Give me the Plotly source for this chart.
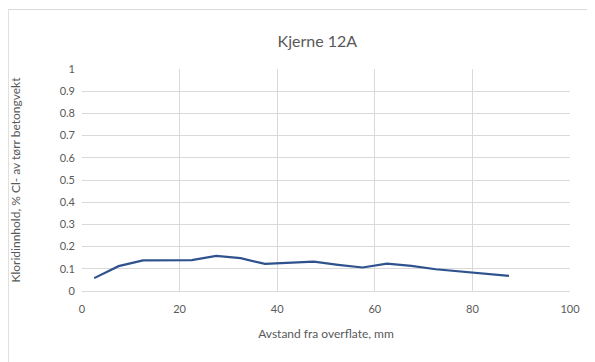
import plotly.graph_objects as go

# avstand fra overflate (mm) og kloridinnhold (% Cl- av tørr betongvekt)
depth_mm = [2.5, 7.5, 12.5, 17.5, 22.5, 27.5, 32.5, 37.5, 42.5, 47.5,
            52.5, 57.5, 62.5, 67.5, 72.5, 77.5, 82.5, 87.5]
chloride = [0.058, 0.112, 0.138, 0.138, 0.139, 0.158, 0.148, 0.122, 0.128, 0.132,
            0.118, 0.106, 0.123, 0.113, 0.098, 0.088, 0.079, 0.068]

title_text = "Kjerne 12A"
x_title = "Avstand fra overflate, mm"
y_title = "Kloridinnhold, % Cl- av tørr betongvekt"

grey_text = "#595959"
grid = "#D9D9D9"

fig = go.Figure()

fig.add_trace(go.Scatter(
    x=depth_mm,
    y=chloride,
    mode="lines",
    line=dict(color="#2F528F", width=2.2),
    showlegend=False
))

# siden har 8px marg, så figuren er litt mindre enn vinduet
fig.update_layout(
    width=587,
    height=354,
    margin=dict(l=74, r=25, t=61, b=71),
    paper_bgcolor="white",
    plot_bgcolor="white",
    font=dict(family="Lato, Liberation Sans, sans-serif", size=11, color=grey_text),
    title=dict(text=title_text, x=0.527, xanchor="center", y=0.905, yanchor="middle",
               font=dict(size=16, color=grey_text)),
    xaxis=dict(
        range=[0, 100], dtick=20, tick0=0,
        showgrid=True, gridcolor=grid, gridwidth=1,
        zeroline=False, showline=True, linecolor=grid, linewidth=1,
        ticks="", ticklabelstandoff=8, automargin=False,
        title=dict(text=x_title, font=dict(size=12, color=grey_text), standoff=15),
    ),
    yaxis=dict(
        range=[0, 1], dtick=0.1, tick0=0,
        showgrid=True, gridcolor=grid, gridwidth=1,
        zeroline=False, showline=False,
        ticks="", ticklabelstandoff=6, automargin=False,
        title=dict(text=y_title, font=dict(size=12, color=grey_text), standoff=50),
    ),
    shapes=[dict(
        type="rect", xref="paper", yref="paper",
        x0=-0.151, x1=1.1, y0=-0.4, y1=1.268,
        line=dict(color="#D9D9D9", width=1), fillcolor="rgba(0,0,0,0)",
        layer="below"
    )],
)

fig.write_html("out.html")
